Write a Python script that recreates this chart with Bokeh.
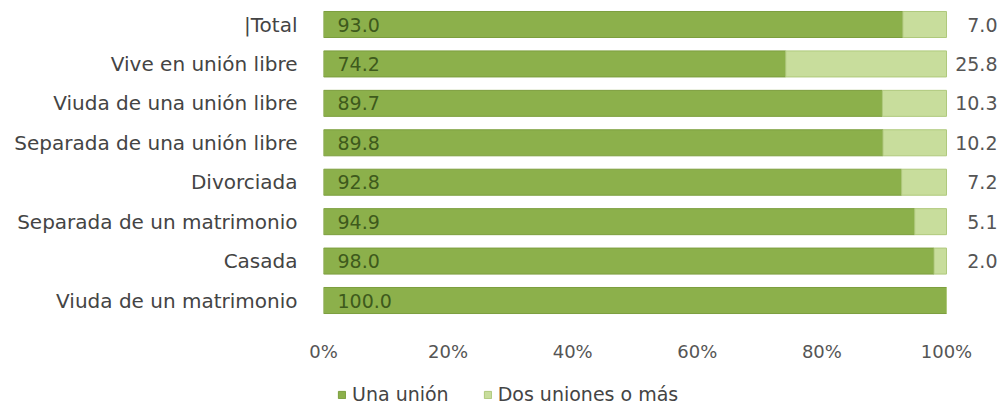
from bokeh.plotting import figure
from bokeh.layouts import column
from bokeh.models import ColumnDataSource, Range1d, FixedTicker, PrintfTickFormatter, Legend, LegendItem
from bokeh.core.properties import value
from bokeh.embed import file_html
from bokeh.resources import INLINE

categories = ["|Total", "Vive en unión libre", "Viuda de una unión libre",
              "Separada de una unión libre", "Divorciada", "Separada de un matrimonio",
              "Casada", "Viuda de un matrimonio"]
una_union = [93.0, 74.2, 89.7, 89.8, 92.8, 94.9, 98.0, 100.0]
dos_o_mas = [7.0, 25.8, 10.3, 10.2, 7.2, 5.1, 2.0, 0.0]
x_ticks = [0, 20, 40, 60, 80, 100]
series_names = ["Una unión", "Dos uniones o más"]

FONT = "DejaVu Sans"
DARK = "#8cb04b"
LIGHT = "#c8dd9c"
DARK_LINE = "#7c9e3e"
LIGHT_LINE = "#afc97c"

n = len(categories)
ypos = [n - 1 - i for i in range(n)]  # first category at top
src = ColumnDataSource(dict(
    y=ypos, cat=categories, una=una_union, dos=dos_o_mas,
    total=[a + b for a, b in zip(una_union, dos_o_mas)],
    una_lbl=["%.1f" % v for v in una_union],
    dos_lbl=["%.1f" % v if v > 0 else "" for v in dos_o_mas],
    zero=[0] * n,
))

W = 1002
H_MAIN, H_LEG = 370, 38
left_border = 323
frame_px_per_unit = 6.23
row_px = 39.43
first_row_px = 24
frame_h = 320
x_end = (W - left_border) / frame_px_per_unit
y_end = (n - 1) + first_row_px / row_px
y_start = -(frame_h - (first_row_px + (n - 1) * row_px)) / row_px

p = figure(width=W, height=H_MAIN, output_backend="svg", toolbar_location=None,
           x_range=Range1d(0, x_end), y_range=Range1d(y_start, y_end),
           min_border_left=left_border, min_border_right=0, min_border_top=0,
           min_border_bottom=H_MAIN - frame_h)
p.outline_line_color = None
p.xgrid.visible = False
p.ygrid.visible = False

r1 = p.hbar(y="y", left="zero", right="una", height=0.66, source=src,
            fill_color=DARK, line_color=DARK_LINE, line_width=1)
r2 = p.hbar(y="y", left="una", right="total", height=0.66, source=src,
            fill_color=LIGHT, line_color=LIGHT_LINE, line_width=1)

p.text(x="zero", y="y", text="una_lbl", source=src, x_offset=14,
       text_align="left", text_baseline="middle", text_font=value(FONT),
       text_font_size="19px", text_color="#3e5a1c")
p.text(x="total", y="y", text="dos_lbl", source=src, x_offset=51,
       text_align="right", text_baseline="middle", text_font=value(FONT),
       text_font_size="19px", text_color="#555555")

xa = p.xaxis[0]
xa.ticker = FixedTicker(ticks=x_ticks)
xa.formatter = PrintfTickFormatter(format="%d%%")
xa.axis_line_color = None
xa.major_tick_line_color = None
xa.minor_tick_line_color = None
xa.major_label_text_font = FONT
xa.major_label_text_font_size = "18px"
xa.major_label_text_color = "#555555"
xa.major_label_standoff = 14

ya = p.yaxis[0]
ya.ticker = FixedTicker(ticks=ypos)
ya.major_label_overrides = {y: c for y, c in zip(ypos, categories)}
ya.axis_line_color = None
ya.major_tick_line_color = None
ya.minor_tick_line_color = None
ya.major_label_text_font = FONT
ya.major_label_text_font_size = "20px"
ya.major_label_text_color = "#444444"
ya.major_label_standoff = 20

# legend strip below the chart (its frame is aligned with the chart's frame)
pl = figure(width=W, height=H_LEG, output_backend="svg", toolbar_location=None,
            x_range=Range1d(0, 1), y_range=Range1d(1000, 1001),
            x_axis_location=None, y_axis_location=None,
            min_border=0)
pl.outline_line_color = None
pl.xgrid.visible = False
pl.ygrid.visible = False
lr1 = pl.hbar(y="y", left="zero", right="una", height=0.66, source=src,
              fill_color=DARK, line_color=DARK_LINE)
lr2 = pl.hbar(y="y", left="una", right="total", height=0.66, source=src,
              fill_color=LIGHT, line_color=LIGHT_LINE)
legend = Legend(items=[LegendItem(label=series_names[0], renderers=[lr1]),
                       LegendItem(label=series_names[1], renderers=[lr2])],
                orientation="horizontal", location=(14, 3),
                label_text_font=FONT, label_text_font_size="19px",
                label_text_color="#444444", glyph_width=9, glyph_height=9,
                label_standoff=6, spacing=34, padding=0, margin=0,
                border_line_color=None, background_fill_alpha=0)
pl.add_layout(legend, "center")

layout = column(p, pl, spacing=0)
open("out.html", "w").write(file_html(layout, INLINE))
